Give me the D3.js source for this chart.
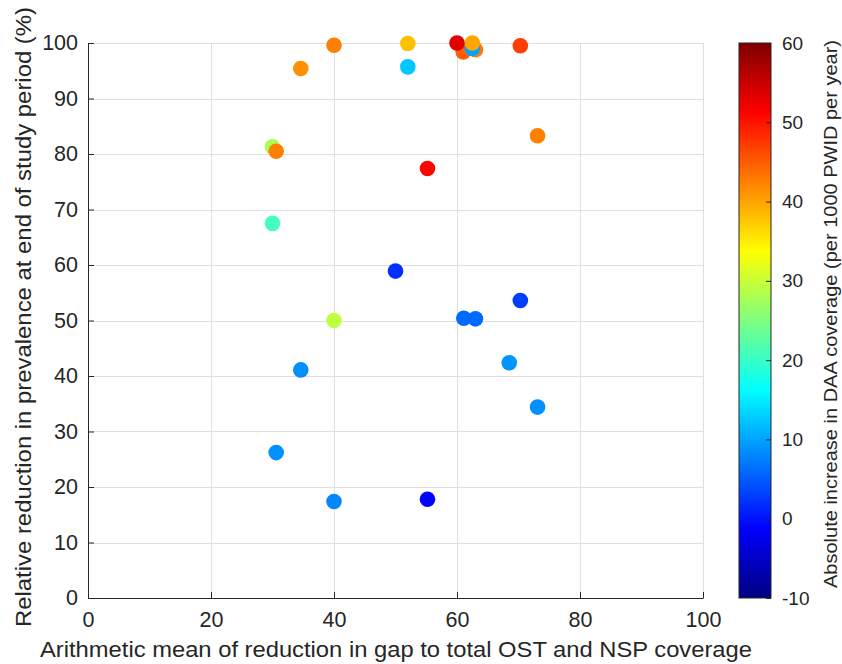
<!DOCTYPE html>
<html>
<head>
<meta charset="utf-8">
<script src="https://cdn.jsdelivr.net/npm/d3@7"></script>
<style>
  body { margin: 0; background: #fff; }
  text { font-family: "Liberation Sans", Arial, sans-serif; fill: #262626; }
</style>
</head>
<body>
<script>
// mean reduction in gap (x), relative reduction in prevalence (y), DAA increase (colour)
const gapReduction = [34.6, 40.0, 52.0, 52.0, 30.0, 30.6, 73.1, 55.2, 61.0, 63.0, 62.5, 62.5, 60.0, 70.3,
                      30.0, 50.0, 70.3, 61.1, 63.0, 40.0, 68.5, 34.6, 73.1, 30.6, 40.0, 55.2]
const prevReduction = [95.4, 99.6, 99.9, 95.7, 81.3, 80.5, 83.3, 77.4, 98.4, 98.8, 99.0, 100.0, 100.0, 99.5,
                       67.5, 58.9, 53.6, 50.4, 50.3, 50.0, 42.4, 41.1, 34.4, 26.2, 17.4, 17.8]
const daaIncrease = [41.4, 42.5, 38.1, 12.4, 28.0, 42.5, 42.5, 51.0, 44.7, 43.0, 10.0, 39.9, 53.3, 46.9,
                     21.0, 2.0, 3.0, 6.0, 6.0, 29.4, 9.0, 8.6, 8.6, 8.6, 8.0, -1.0]

const xTicks = [0, 20, 40, 60, 80, 100]
const yTicks = [0, 10, 20, 30, 40, 50, 60, 70, 80, 90, 100]
const cTicks = [-10, 0, 10, 20, 30, 40, 50, 60]

const width = 842, height = 664
const plot = {left: 88, right: 703, top: 43, bottom: 598}
const bar = {left: 739, right: 771}

// matlab style jet colormap
function jet(t) {
  const clip = v => Math.max(0, Math.min(1, v))
  const r = clip(Math.min(4 * t - 1.5, -4 * t + 4.5))
  const g = clip(Math.min(4 * t - 0.5, -4 * t + 3.5))
  const b = clip(Math.min(4 * t + 0.5, -4 * t + 2.5))
  return d3.rgb(r * 255, g * 255, b * 255).formatHex()
}

const x = d3.scaleLinear().domain([0, 100]).range([plot.left, plot.right])
const y = d3.scaleLinear().domain([0, 100]).range([plot.bottom, plot.top])
const color = d3.scaleSequential(jet).domain([-10, 60])
const cy = d3.scaleLinear().domain([-10, 60]).range([plot.bottom, plot.top])

const svg = d3.select("body").append("svg")
    .attr("width", width)
    .attr("height", height)

svg.append("rect").attr("width", width).attr("height", height).attr("fill", "#fff")

// grid
const grid = svg.append("g").attr("stroke", "#dfdfdf").attr("stroke-width", 1)
grid.selectAll(".gx").data(xTicks).join("line")
    .attr("x1", d => Math.round(x(d)) + 0.5).attr("x2", d => Math.round(x(d)) + 0.5)
    .attr("y1", plot.top).attr("y2", plot.bottom)
grid.selectAll(".gy").data(yTicks).join("line")
    .attr("y1", d => Math.round(y(d)) + 0.5).attr("y2", d => Math.round(y(d)) + 0.5)
    .attr("x1", plot.left).attr("x2", plot.right)

// axes
const xAxis = svg.append("g")
    .attr("transform", `translate(0,${plot.bottom})`)
    .call(d3.axisBottom(x).tickValues(xTicks).tickSizeInner(-6).tickSizeOuter(0).tickPadding(14))
const yAxis = svg.append("g")
    .attr("transform", `translate(${plot.left},0)`)
    .call(d3.axisLeft(y).tickValues(yTicks).tickSizeInner(-6).tickSizeOuter(0).tickPadding(10))
;[xAxis, yAxis].forEach(a => {
  a.selectAll("path, line").attr("stroke", "#262626")
  a.selectAll("text").style("font-size", "21.5px").attr("fill", "#262626")
      .style("font-family", '"Liberation Sans", Arial, sans-serif')
})

// points
const pts = d3.range(gapReduction.length)
svg.append("g").selectAll("circle").data(pts).join("circle")
    .attr("cx", i => x(gapReduction[i]))
    .attr("cy", i => y(prevReduction[i]))
    .attr("r", 7.8)
    .attr("fill", i => color(daaIncrease[i]))

// colorbar
const defs = svg.append("defs")
const grad = defs.append("linearGradient").attr("id", "jet")
    .attr("x1", 0).attr("y1", 1).attr("x2", 0).attr("y2", 0)
grad.selectAll("stop").data(d3.range(0, 1.0001, 1 / 64)).join("stop")
    .attr("offset", d => d)
    .attr("stop-color", d => jet(d))
svg.append("rect")
    .attr("x", bar.left).attr("y", plot.top)
    .attr("width", bar.right - bar.left).attr("height", plot.bottom - plot.top)
    .attr("fill", "url(#jet)")
    .attr("stroke", "#262626").attr("stroke-width", 1)
const cAxis = svg.append("g")
    .attr("transform", `translate(${bar.right},0)`)
    .call(d3.axisRight(cy).tickValues(cTicks).tickFormat(d => String(d))
      .tickSizeInner(-5).tickSizeOuter(0).tickPadding(11))
cAxis.select(".domain").remove()
cAxis.selectAll("line").attr("stroke", "#262626")
cAxis.selectAll("text").style("font-size", "19px").attr("fill", "#262626")
    .style("font-family", '"Liberation Sans", Arial, sans-serif')

// labels
svg.append("text")
    .attr("x", 396).attr("y", 657)
    .attr("text-anchor", "middle").style("font-size", "22px")
    .attr("textLength", 712).attr("lengthAdjust", "spacingAndGlyphs")
    .text("Arithmetic mean of reduction in gap to total OST and NSP coverage")
svg.append("text")
    .attr("transform", "translate(31,317) rotate(-90)")
    .attr("text-anchor", "middle").style("font-size", "22px")
    .attr("textLength", 620).attr("lengthAdjust", "spacingAndGlyphs")
    .text("Relative reduction in prevalence at end of study period (%)")
svg.append("text")
    .attr("transform", "translate(837,314) rotate(-90)")
    .attr("text-anchor", "middle").style("font-size", "18px")
    .attr("textLength", 548).attr("lengthAdjust", "spacingAndGlyphs")
    .text("Absolute increase in DAA coverage (per 1000 PWID per year)")
</script>
</body>
</html>
